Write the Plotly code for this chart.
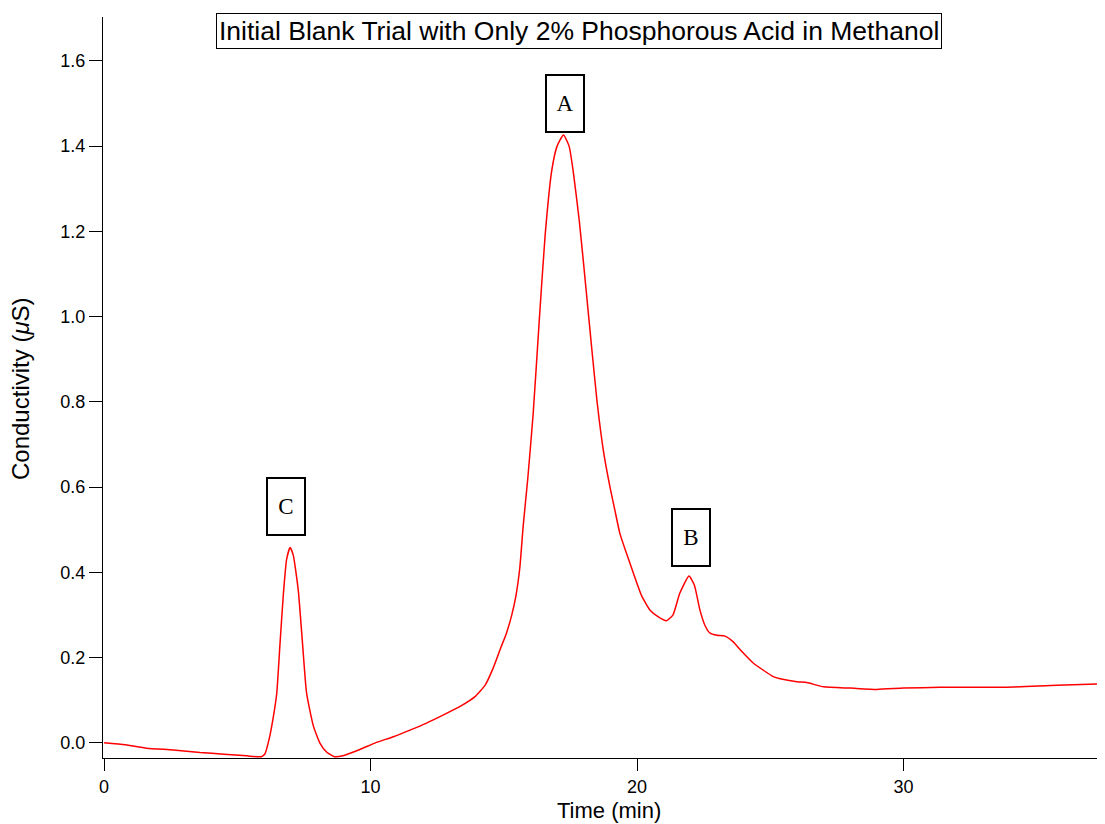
import plotly.graph_objects as go

time_min = [0, 0.8, 1.6, 2.6, 3.6, 4.5, 5.35, 5.9, 6.04, 6.2, 6.35, 6.48, 6.6, 6.73, 6.85,
            6.98, 7.1, 7.2, 7.3, 7.45, 7.6, 7.85, 8.1, 8.35, 8.65, 9.0, 9.6, 10.2, 10.86, 11.5,
            12.1, 12.7, 13.36, 13.92, 14.3, 14.6, 14.9, 15.1, 15.3, 15.45, 15.6, 15.73, 15.9,
            16.1, 16.33, 16.55, 16.8, 17.0, 17.24, 17.45, 17.6, 17.83, 18.0, 18.2, 18.5, 18.75,
            19.0, 19.17, 19.36, 19.74, 20.17, 20.5, 20.8, 21.1, 21.35, 21.6, 21.95, 22.15, 22.36,
            22.55, 22.74, 23.0, 23.3, 23.6, 23.86, 24.36, 25.11, 25.37, 26.0, 26.37, 27.0,
            28.0, 29.0, 30.0, 31.37, 33.87, 35.75, 37.56]
conductivity = [0.0, -0.005, -0.013, -0.017, -0.023, -0.027, -0.031, -0.033, -0.026, 0.01,
                0.06, 0.116, 0.23, 0.35, 0.43, 0.458, 0.44, 0.40, 0.35, 0.23, 0.116, 0.04,
                -0.001, -0.022, -0.033, -0.03, -0.016, 0.0, 0.014, 0.03, 0.046, 0.064, 0.085,
                0.108, 0.135, 0.175, 0.225, 0.257, 0.30, 0.343, 0.41, 0.51, 0.62, 0.77, 0.99,
                1.19, 1.343, 1.40, 1.426, 1.40, 1.343, 1.226, 1.12, 0.99, 0.80, 0.68, 0.595,
                0.545, 0.49, 0.42, 0.345, 0.31, 0.295, 0.286, 0.30, 0.35, 0.391, 0.37, 0.311,
                0.275, 0.257, 0.252, 0.25, 0.237, 0.219, 0.187, 0.155, 0.150, 0.143, 0.141,
                0.131, 0.128, 0.125, 0.128, 0.130, 0.130, 0.135, 0.138]

peak_labels = ["A", "B", "C"]
peak_x = [17.3, 22.03, 6.83]
peak_y = [1.501, 0.481, 0.555]

title_text = "Initial Blank Trial with Only 2% Phosphorous Acid in Methanol"
x_title = "Time (min)"
y_title = "Conductivity (<i>μ</i>S)"

sans = "Liberation Sans, Arial, sans-serif"

fig = go.Figure()
fig.add_trace(go.Scatter(x=time_min, y=conductivity, mode="lines",
                         line=dict(color="#ff0000", width=1.5, shape="spline", smoothing=0.5),
                         showlegend=False, hoverinfo="x+y"))

for lab, px, py in zip(peak_labels, peak_x, peak_y):
    fig.add_annotation(x=px, y=py, xref="x", yref="y", text=lab, showarrow=False,
                       font=dict(family="Liberation Serif, Times New Roman, serif", size=23, color="black"),
                       bordercolor="black", borderwidth=2, borderpad=1, bgcolor="white",
                       width=34, height=53)

fig.add_annotation(x=(578.5 - 103) / 1002, y=1.0, xref="paper", yref="paper", yanchor="middle",
                   xanchor="center", yshift=-14, text=title_text, showarrow=False,
                   font=dict(family=sans, size=26.5, color="black"),
                   bordercolor="black", borderwidth=1, borderpad=2, bgcolor="white")

fig.add_annotation(x=(20 - 103) / 1002, y=(758 - 389) / 741, xref="paper", yref="paper",
                   xanchor="center", yanchor="middle",
                   text=y_title, textangle=-90, showarrow=False,
                   font=dict(family=sans, size=24, color="black"))
fig.add_annotation(x=(609 - 103) / 1002, y=(758 - 810) / 741, xref="paper", yref="paper",
                   xanchor="center", yanchor="middle",
                   text=x_title, showarrow=False,
                   font=dict(family=sans, size=22, color="black"))

axis_font = dict(family=sans, size=18, color="black")
fig.update_xaxes(range=[-0.04, 37.56], tickvals=[0, 10, 20, 30], ticks="outside", ticklen=12,
                 tickwidth=1, tickcolor="black", showline=True, linecolor="black", linewidth=1,
                 showgrid=False, zeroline=False, tickfont=axis_font)
fig.update_yaxes(range=[-0.036, 1.703], tickvals=[0, 0.2, 0.4, 0.6, 0.8, 1.0, 1.2, 1.4, 1.6],
                 ticktext=["0.0", "0.2", "0.4", "0.6", "0.8", "1.0", "1.2", "1.4", "1.6"],
                 ticks="outside", ticklen=13, tickwidth=1, tickcolor="black", showline=True,
                 linecolor="black", linewidth=1, showgrid=False, zeroline=False, tickfont=axis_font)

# page body has an 8px margin, so the figure is shifted by 8px; compensate
fig.update_layout(width=1097, height=816, margin=dict(l=95, r=0, t=9, b=66),
                  plot_bgcolor="white", paper_bgcolor="white")

fig.write_html("out.html")
